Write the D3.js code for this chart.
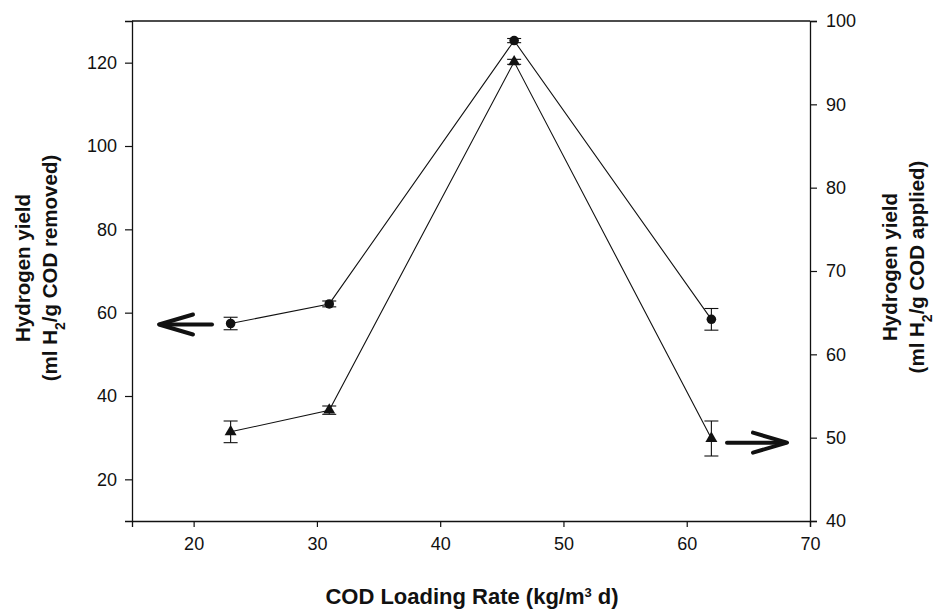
<!DOCTYPE html>
<html>
<head>
<meta charset="utf-8">
<script src="https://cdn.jsdelivr.net/npm/d3@7"></script>
<style>
  html, body { margin: 0; padding: 0; background: #fff; }
  svg text { font-family: "Liberation Sans", Arial, sans-serif; fill: #111; }
</style>
</head>
<body>
<svg id="chart" width="934" height="610"></svg>
<script>
// ---- data ----
const loadingRate = [23, 31, 46, 62];
const yieldRemoved = [57.4, 62.1, 125.3, 58.4];      // left axis, circles
const yieldRemovedErr = [1.5, 0.7, 0.5, 2.6];
const yieldApplied = [50.7, 53.3, 95.1, 49.9];       // right axis, triangles
const yieldAppliedErr = [1.3, 0.5, 0.3, 2.1];
const xTicks = [20, 30, 40, 50, 60, 70];
const leftTicks = [20, 40, 60, 80, 100, 120];
const rightTicks = [40, 50, 60, 70, 80, 90, 100];

// ---- layout ----
const svg = d3.select("#chart");
const L = 132, R = 810, T = 21, B = 521;

const x = d3.scaleLinear().domain([15, 70]).range([L, R]);
const yL = d3.scaleLinear().domain([10, 130]).range([B, T]);
const yR = d3.scaleLinear().domain([40, 100]).range([B, T]);

function styleAxis(g) {
  g.selectAll("path.domain").attr("stroke", "#111").attr("stroke-width", 1.3);
  g.selectAll(".tick line").attr("stroke", "#111").attr("stroke-width", 1.2);
  g.selectAll(".tick text").attr("font-size", 18).attr("fill", "#111")
    .attr("font-family", "Liberation Sans, Arial, sans-serif");
}

// top frame line
svg.append("line").attr("x1", L).attr("x2", R).attr("y1", T).attr("y2", T)
  .attr("stroke", "#111").attr("stroke-width", 1.3);

svg.append("g").attr("transform", `translate(0,${B})`)
  .call(d3.axisBottom(x).tickValues(xTicks).tickSizeOuter(0).tickSize(6).tickPadding(10))
  .call(styleAxis);

svg.append("g").attr("transform", `translate(${L},0)`)
  .call(d3.axisLeft(yL).tickValues(leftTicks).tickSizeOuter(0).tickSize(7).tickPadding(8))
  .call(styleAxis);

svg.append("g").attr("transform", `translate(${R},0)`)
  .call(d3.axisRight(yR).tickValues(rightTicks).tickSizeOuter(0).tickSize(7).tickPadding(9))
  .call(styleAxis);

// ---- series ----
const circ = loadingRate.map((d, i) => ({ x: d, y: yieldRemoved[i], e: yieldRemovedErr[i] }));
const tri = loadingRate.map((d, i) => ({ x: d, y: yieldApplied[i], e: yieldAppliedErr[i] }));

function drawSeries(data, yScale, symbolType, size) {
  const line = d3.line().x(d => x(d.x)).y(d => yScale(d.y));
  svg.append("path").datum(data).attr("d", line)
    .attr("fill", "none").attr("stroke", "#111").attr("stroke-width", 1.1);
  const eb = svg.append("g").attr("stroke", "#111").attr("stroke-width", 1.1);
  data.forEach(d => {
    const cx = x(d.x), y1 = yScale(d.y + d.e), y2 = yScale(d.y - d.e);
    eb.append("line").attr("x1", cx).attr("x2", cx).attr("y1", y1).attr("y2", y2);
    eb.append("line").attr("x1", cx - 7).attr("x2", cx + 7).attr("y1", y1).attr("y2", y1);
    eb.append("line").attr("x1", cx - 7).attr("x2", cx + 7).attr("y1", y2).attr("y2", y2);
  });
  svg.append("g").selectAll("path").data(data).join("path")
    .attr("d", d3.symbol().type(symbolType).size(size))
    .attr("transform", d => `translate(${x(d.x)},${yScale(d.y)})`)
    .attr("fill", "#111");
}
drawSeries(circ, yL, d3.symbolCircle, 72);
drawSeries(tri, yR, d3.symbolTriangle, 62);

// ---- arrows ----
function arrow(x1, x2, y) {
  // from x1 (tail) to x2 (tip)
  const dir = x2 > x1 ? 1 : -1;
  const g = svg.append("g").attr("stroke", "#111").attr("stroke-width", 4)
    .attr("fill", "none").attr("stroke-linecap", "round").attr("stroke-linejoin", "round");
  g.append("line").attr("x1", x1).attr("x2", x2 - dir * 2).attr("y1", y).attr("y2", y);
  g.append("path").attr("d",
    `M${x2 - dir * 34},${y - 10} L${x2},${y} L${x2 - dir * 34},${y + 10}`);
}
arrow(212, 159, yL(yieldRemoved[0]) + 1);
arrow(727, 787, yR(50) + 5);

// ---- axis titles ----
function yTitle(cx, cy, line1, pre, post) {
  const t = svg.append("text")
    .attr("transform", `translate(${cx},${cy}) rotate(-90)`)
    .attr("text-anchor", "middle").attr("font-weight", "bold").attr("font-size", 20.5);
  t.append("tspan").attr("x", 0).attr("y", 0).text(line1);
  t.append("tspan").attr("x", 0).attr("y", 26.5).text(pre);
  t.append("tspan").attr("baseline-shift", "sub").attr("font-size", 14).text("2");
  t.append("tspan").text(post);
}
yTitle(30, 268, "Hydrogen yield", "(ml H", "/g COD removed)");
yTitle(897, 267, "Hydrogen yield", "(ml H", "/g COD applied)");

const xt = svg.append("text").attr("x", 472).attr("y", 604)
  .attr("text-anchor", "middle").attr("font-weight", "bold").attr("font-size", 22);
xt.append("tspan").text("COD Loading Rate (kg/m");
xt.append("tspan").attr("baseline-shift", "super").attr("font-size", 13).text("3");
xt.append("tspan").text(" d)");
</script>
</body>
</html>
